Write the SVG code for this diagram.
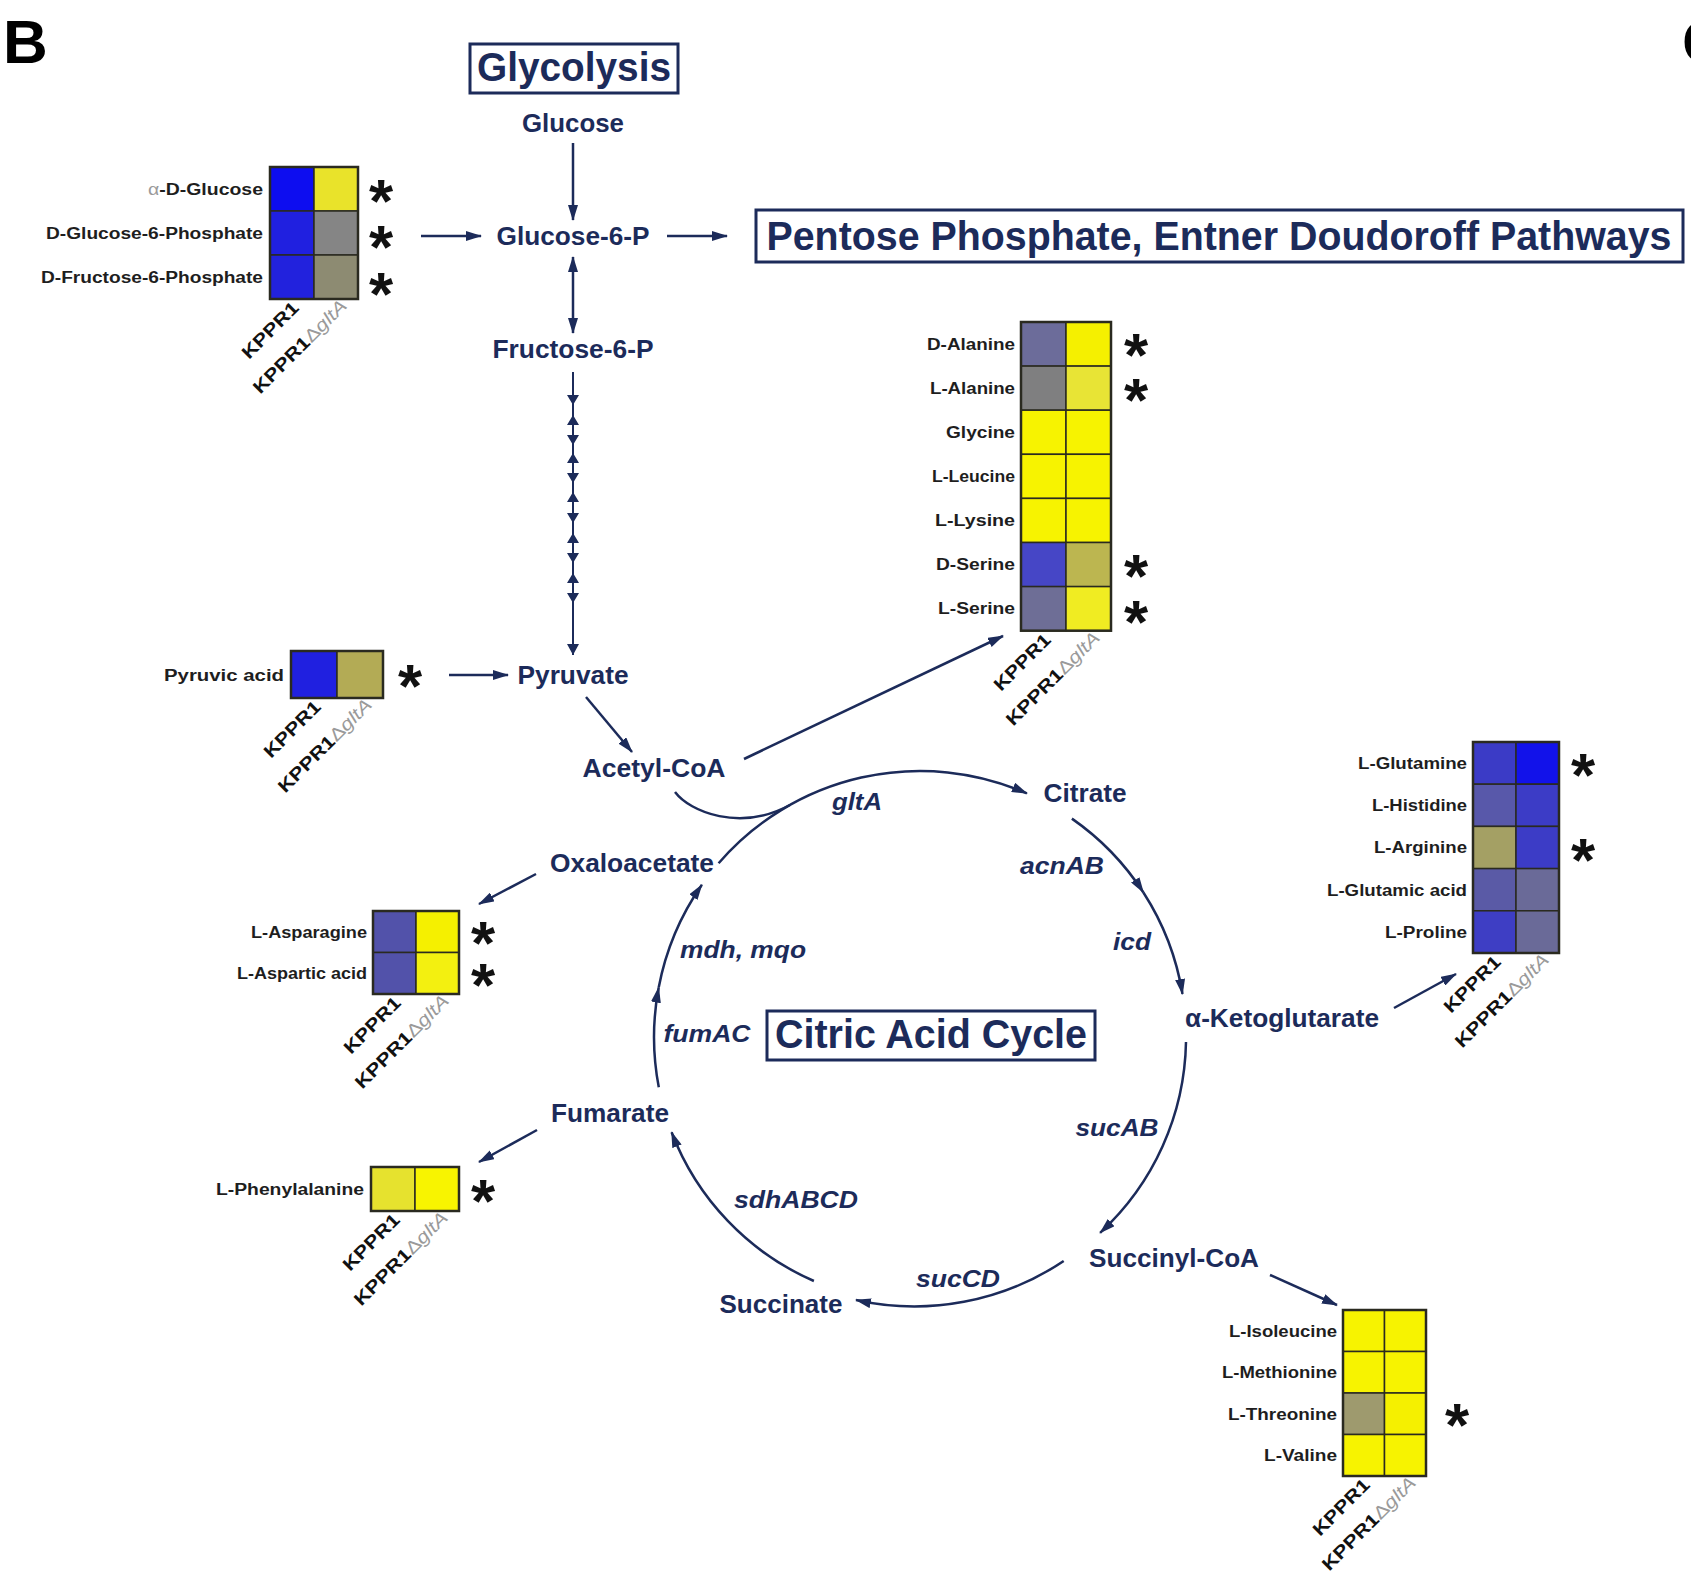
<svg xmlns="http://www.w3.org/2000/svg" width="1691" height="1589" viewBox="0 0 1691 1589">
<style>
.n{font-family:"Liberation Sans",Arial,sans-serif;font-weight:bold;font-size:25px;fill:#1c2b5a;text-anchor:middle}
.g{font-family:"Liberation Sans",Arial,sans-serif;font-weight:bold;font-style:italic;font-size:24px;fill:#1c2b5a;text-anchor:middle}
.t{font-family:"Liberation Sans",Arial,sans-serif;font-weight:bold;font-size:40px;fill:#1c2b5a;text-anchor:middle}
.h{font-family:"Liberation Sans",Arial,sans-serif;font-weight:bold;font-size:16px;fill:#1e1e1e;text-anchor:end}
.c{font-family:"Liberation Sans",Arial,sans-serif;font-weight:bold;font-size:18px;fill:#111;text-anchor:end}
.d{fill:#9a9a9a;font-weight:normal}
.s{font-family:"Liberation Sans",Arial,sans-serif;font-weight:bold;font-size:62px;fill:#111;text-anchor:middle}
.L{font-family:"Liberation Sans",Arial,sans-serif;font-weight:bold;font-size:62px;fill:#000}
.ln{stroke:#1c2b5a;stroke-width:2.5;fill:none}
.a{marker-end:url(#ah)}
.box{fill:none;stroke:#1c2b5a;stroke-width:3}
.cell{stroke:#2a2a20;stroke-width:1.5}
.fr{fill:none;stroke:#2a2a20;stroke-width:2.5}
.tri{fill:#1c2b5a}
</style>
<defs>
<marker id="ah" viewBox="0 0 16 10" refX="15" refY="5" markerWidth="16" markerHeight="10" markerUnits="userSpaceOnUse" orient="auto-start-reverse">
<path d="M0,0 L16,5 L0,10 z" fill="#1c2b5a"/>
</marker>
</defs>
<rect width="1691" height="1589" fill="#ffffff"/>
<text class="L" x="3" y="63">B</text>
<text class="L" x="1682" y="63">C</text>

<g id="connectors">
<line class="ln a" x1="573" y1="143" x2="573" y2="220"/>
<line class="ln a" x1="421" y1="236" x2="481" y2="236"/>
<line class="ln a" x1="667" y1="236" x2="727" y2="236"/>
<line class="ln a" x1="573" y1="257" x2="573" y2="333" marker-start="url(#ah)"/>
<line stroke="#1c2b5a" stroke-width="2" x1="573" y1="372" x2="573" y2="655"/>
<path class="tri" d="M567,395 L579,395 L573,405 z M567,425 L579,425 L573,415 z M567,435 L579,435 L573,445 z M567,463 L579,463 L573,453 z M567,473 L579,473 L573,483 z M567,502 L579,502 L573,492 z M567,513 L579,513 L573,523 z M567,543 L579,543 L573,533 z M567,553 L579,553 L573,563 z M567,583 L579,583 L573,573 z M567,593 L579,593 L573,603 z M567,644 L579,644 L573,655 z"/>
<line class="ln a" x1="449" y1="675" x2="508" y2="675"/>
<line class="ln a" x1="586" y1="697" x2="632" y2="752"/>
<line class="ln a" x1="744" y1="759" x2="1003" y2="636"/>
<path class="ln a" d="M718.6,863.3 A266,266 0 0 1 1026.9,793.4"/>
<path class="ln" d="M675,792 C690,812 740,832 790,805"/>
<path class="ln a" d="M1071.9,818.6 A266,266 0 0 1 1143.4,892.5"/>
<path class="ln a" d="M1143.4,892.5 A266,266 0 0 1 1182.5,994"/>
<path class="ln a" d="M1186,1042 A266,266 0 0 1 1100.1,1232.8"/>
<path class="ln a" d="M1063.7,1261 A268,268 0 0 1 856,1300"/>
<path class="ln a" d="M813.9,1281 A266,266 0 0 1 671.6,1132.3"/>
<path class="ln a" d="M658.8,1087.3 A266,266 0 0 1 658.7,987.6"/>
<path class="ln a" d="M658.7,987.6 A266,266 0 0 1 701.9,884.8"/>
<line class="ln a" x1="536" y1="874" x2="479" y2="904"/>
<line class="ln a" x1="537" y1="1130" x2="479" y2="1162"/>
<line class="ln a" x1="1394" y1="1008" x2="1456" y2="974"/>
<line class="ln a" x1="1270" y1="1275" x2="1337" y2="1305"/>
</g>

<g id="glycolysis-title"><rect class="box" x="470" y="44" width="208" height="49"/><text class="t" x="574" y="81" textLength="194" lengthAdjust="spacingAndGlyphs">Glycolysis</text></g>
<g id="pentose"><rect class="box" x="756" y="210" width="927" height="52"/><text class="t" x="1219" y="250" font-size="38" textLength="905" lengthAdjust="spacingAndGlyphs">Pentose Phosphate, Entner Doudoroff Pathways</text></g>
<g id="citric-title"><rect class="box" x="767" y="1011" width="328" height="49"/><text class="t" x="931" y="1048" textLength="312" lengthAdjust="spacingAndGlyphs">Citric Acid Cycle</text></g>

<g id="glucose"><text class="n" x="573" y="132" textLength="102" lengthAdjust="spacingAndGlyphs">Glucose</text></g>
<g id="glucose-6-p"><text class="n" x="573" y="245" textLength="153" lengthAdjust="spacingAndGlyphs">Glucose-6-P</text></g>
<g id="fructose-6-p"><text class="n" x="573" y="358" textLength="161" lengthAdjust="spacingAndGlyphs">Fructose-6-P</text></g>
<g id="pyruvate"><text class="n" x="573" y="684" textLength="111" lengthAdjust="spacingAndGlyphs">Pyruvate</text></g>
<g id="acetyl-coa"><text class="n" x="654" y="777" textLength="143" lengthAdjust="spacingAndGlyphs">Acetyl-CoA</text></g>
<g id="citrate"><text class="n" x="1085" y="802" textLength="83" lengthAdjust="spacingAndGlyphs">Citrate</text></g>
<g id="oxaloacetate"><text class="n" x="632" y="872" textLength="164" lengthAdjust="spacingAndGlyphs">Oxaloacetate</text></g>
<g id="a-ketoglutarate"><text class="n" x="1282" y="1027" textLength="194" lengthAdjust="spacingAndGlyphs">α-Ketoglutarate</text></g>
<g id="succinyl-coa"><text class="n" x="1174" y="1267" textLength="170" lengthAdjust="spacingAndGlyphs">Succinyl-CoA</text></g>
<g id="succinate"><text class="n" x="781" y="1313" textLength="123" lengthAdjust="spacingAndGlyphs">Succinate</text></g>
<g id="fumarate"><text class="n" x="610" y="1122" textLength="118" lengthAdjust="spacingAndGlyphs">Fumarate</text></g>

<g id="genes">
<text class="g" x="857" y="810" textLength="50" lengthAdjust="spacingAndGlyphs">gltA</text>
<text class="g" x="1062" y="874" textLength="84" lengthAdjust="spacingAndGlyphs">acnAB</text>
<text class="g" x="1132" y="950" textLength="38" lengthAdjust="spacingAndGlyphs">icd</text>
<text class="g" x="1117" y="1136" textLength="83" lengthAdjust="spacingAndGlyphs">sucAB</text>
<text class="g" x="796" y="1208" textLength="124" lengthAdjust="spacingAndGlyphs">sdhABCD</text>
<text class="g" x="958" y="1287" textLength="84" lengthAdjust="spacingAndGlyphs">sucCD</text>
<text class="g" x="707" y="1042" textLength="87" lengthAdjust="spacingAndGlyphs">fumAC</text>
<text class="g" x="743" y="958" textLength="126" lengthAdjust="spacingAndGlyphs">mdh, mqo</text>
</g>

<g id="heatmap-sugars">
<rect class="cell" x="270" y="167" width="44" height="44" fill="#0d0df0"/><rect class="cell" x="314" y="167" width="44" height="44" fill="#e9e32a"/>
<rect class="cell" x="270" y="211" width="44" height="44" fill="#2020e0"/><rect class="cell" x="314" y="211" width="44" height="44" fill="#858585"/>
<rect class="cell" x="270" y="255" width="44" height="44" fill="#2222dd"/><rect class="cell" x="314" y="255" width="44" height="44" fill="#8d8b72"/>
<rect class="fr" x="270" y="167" width="88" height="132"/>
<text class="h" x="263" y="195" textLength="115" lengthAdjust="spacingAndGlyphs"><tspan class="d">α</tspan>-D-Glucose</text>
<text class="h" x="263" y="239" textLength="217" lengthAdjust="spacingAndGlyphs">D-Glucose-6-Phosphate</text>
<text class="h" x="263" y="283" textLength="222" lengthAdjust="spacingAndGlyphs">D-Fructose-6-Phosphate</text>
<text class="s"><tspan x="381" y="222">*</tspan><tspan x="381" y="268">*</tspan><tspan x="381" y="315">*</tspan></text>
<text class="c" transform="translate(300,309) rotate(-45)" textLength="72" lengthAdjust="spacingAndGlyphs">KPPR1</text>
<text class="c" transform="translate(348,307) rotate(-45)" textLength="124" lengthAdjust="spacingAndGlyphs">KPPR1<tspan class="d">Δ<tspan font-style="italic">gltA</tspan></tspan></text>
</g>

<g id="heatmap-pyruvic">
<rect class="cell" x="291" y="651" width="46" height="47" fill="#2020e0"/><rect class="cell" x="337" y="651" width="46" height="47" fill="#b3ab55"/>
<rect class="fr" x="291" y="651" width="92" height="47"/>
<text class="h" x="284" y="681" textLength="120" lengthAdjust="spacingAndGlyphs">Pyruvic acid</text>
<text class="s" x="410" y="707">*</text>
<text class="c" transform="translate(322,708) rotate(-45)" textLength="72" lengthAdjust="spacingAndGlyphs">KPPR1</text>
<text class="c" transform="translate(373,706) rotate(-45)" textLength="124" lengthAdjust="spacingAndGlyphs">KPPR1<tspan class="d">Δ<tspan font-style="italic">gltA</tspan></tspan></text>
</g>

<g id="heatmap-pyruvate-aa">
<rect class="cell" x="1021" y="322" width="45" height="44.1" fill="#6c6c9a"/><rect class="cell" x="1066" y="322" width="45" height="44.1" fill="#f5f000"/>
<rect class="cell" x="1021" y="366.1" width="45" height="44.1" fill="#7f7f80"/><rect class="cell" x="1066" y="366.1" width="45" height="44.1" fill="#e8e435"/>
<rect class="cell" x="1021" y="410.2" width="45" height="44.1" fill="#f7f300"/><rect class="cell" x="1066" y="410.2" width="45" height="44.1" fill="#f7f300"/>
<rect class="cell" x="1021" y="454.3" width="45" height="44.1" fill="#f7f300"/><rect class="cell" x="1066" y="454.3" width="45" height="44.1" fill="#f7f300"/>
<rect class="cell" x="1021" y="498.4" width="45" height="44.1" fill="#f7f300"/><rect class="cell" x="1066" y="498.4" width="45" height="44.1" fill="#f7f300"/>
<rect class="cell" x="1021" y="542.5" width="45" height="44.1" fill="#4646c6"/><rect class="cell" x="1066" y="542.5" width="45" height="44.1" fill="#bcb650"/>
<rect class="cell" x="1021" y="586.6" width="45" height="44.1" fill="#6e6e96"/><rect class="cell" x="1066" y="586.6" width="45" height="44.1" fill="#f0ec22"/>
<rect class="fr" x="1021" y="322" width="90" height="308.7"/>
<text class="h" x="1015" y="350" textLength="88" lengthAdjust="spacingAndGlyphs">D-Alanine</text>
<text class="h" x="1015" y="394" textLength="85" lengthAdjust="spacingAndGlyphs">L-Alanine</text>
<text class="h" x="1015" y="438" textLength="69" lengthAdjust="spacingAndGlyphs">Glycine</text>
<text class="h" x="1015" y="482" textLength="83" lengthAdjust="spacingAndGlyphs">L-Leucine</text>
<text class="h" x="1015" y="526" textLength="80" lengthAdjust="spacingAndGlyphs">L-Lysine</text>
<text class="h" x="1015" y="570" textLength="79" lengthAdjust="spacingAndGlyphs">D-Serine</text>
<text class="h" x="1015" y="614" textLength="77" lengthAdjust="spacingAndGlyphs">L-Serine</text>
<text class="s"><tspan x="1136" y="376">*</tspan><tspan x="1136" y="421">*</tspan><tspan x="1136" y="597">*</tspan><tspan x="1136" y="643">*</tspan></text>
<text class="c" transform="translate(1052,641) rotate(-45)" textLength="72" lengthAdjust="spacingAndGlyphs">KPPR1</text>
<text class="c" transform="translate(1101,639) rotate(-45)" textLength="124" lengthAdjust="spacingAndGlyphs">KPPR1<tspan class="d">Δ<tspan font-style="italic">gltA</tspan></tspan></text>
</g>

<g id="heatmap-akg-aa">
<rect class="cell" x="1473" y="742" width="43" height="42.2" fill="#3b3bc6"/><rect class="cell" x="1516" y="742" width="43" height="42.2" fill="#1212ea"/>
<rect class="cell" x="1473" y="784.2" width="43" height="42.2" fill="#5858aa"/><rect class="cell" x="1516" y="784.2" width="43" height="42.2" fill="#3c3cc6"/>
<rect class="cell" x="1473" y="826.4" width="43" height="42.2" fill="#a4a064"/><rect class="cell" x="1516" y="826.4" width="43" height="42.2" fill="#3c3cc6"/>
<rect class="cell" x="1473" y="868.6" width="43" height="42.2" fill="#5a5aa6"/><rect class="cell" x="1516" y="868.6" width="43" height="42.2" fill="#6a6a98"/>
<rect class="cell" x="1473" y="910.8" width="43" height="42.2" fill="#3e3ec4"/><rect class="cell" x="1516" y="910.8" width="43" height="42.2" fill="#6a6a98"/>
<rect class="fr" x="1473" y="742" width="86" height="211"/>
<text class="h" x="1467" y="769" textLength="109" lengthAdjust="spacingAndGlyphs">L-Glutamine</text>
<text class="h" x="1467" y="811" textLength="95" lengthAdjust="spacingAndGlyphs">L-Histidine</text>
<text class="h" x="1467" y="853" textLength="93" lengthAdjust="spacingAndGlyphs">L-Arginine</text>
<text class="h" x="1467" y="896" textLength="140" lengthAdjust="spacingAndGlyphs">L-Glutamic acid</text>
<text class="h" x="1467" y="938" textLength="82" lengthAdjust="spacingAndGlyphs">L-Proline</text>
<text class="s"><tspan x="1583" y="796">*</tspan><tspan x="1583" y="881">*</tspan></text>
<text class="c" transform="translate(1502,963) rotate(-45)" textLength="72" lengthAdjust="spacingAndGlyphs">KPPR1</text>
<text class="c" transform="translate(1550,961) rotate(-45)" textLength="124" lengthAdjust="spacingAndGlyphs">KPPR1<tspan class="d">Δ<tspan font-style="italic">gltA</tspan></tspan></text>
</g>

<g id="heatmap-oaa-aa">
<rect class="cell" x="373" y="911" width="43" height="41.5" fill="#5252aa"/><rect class="cell" x="416" y="911" width="43" height="41.5" fill="#f5f000"/>
<rect class="cell" x="373" y="952.5" width="43" height="41.5" fill="#5252aa"/><rect class="cell" x="416" y="952.5" width="43" height="41.5" fill="#f3f010"/>
<rect class="fr" x="373" y="911" width="86" height="83"/>
<text class="h" x="367" y="938" textLength="116" lengthAdjust="spacingAndGlyphs">L-Asparagine</text>
<text class="h" x="367" y="979" textLength="130" lengthAdjust="spacingAndGlyphs">L-Aspartic acid</text>
<text class="s"><tspan x="483" y="964">*</tspan><tspan x="483" y="1006">*</tspan></text>
<text class="c" transform="translate(402,1004) rotate(-45)" textLength="72" lengthAdjust="spacingAndGlyphs">KPPR1</text>
<text class="c" transform="translate(450,1002) rotate(-45)" textLength="124" lengthAdjust="spacingAndGlyphs">KPPR1<tspan class="d">Δ<tspan font-style="italic">gltA</tspan></tspan></text>
</g>

<g id="heatmap-fumarate-aa">
<rect class="cell" x="371" y="1167" width="44" height="44" fill="#e6e22e"/><rect class="cell" x="415" y="1167" width="44" height="44" fill="#f8f400"/>
<rect class="fr" x="371" y="1167" width="88" height="44"/>
<text class="h" x="364" y="1195" textLength="148" lengthAdjust="spacingAndGlyphs">L-Phenylalanine</text>
<text class="s" x="483" y="1222">*</text>
<text class="c" transform="translate(401,1221) rotate(-45)" textLength="72" lengthAdjust="spacingAndGlyphs">KPPR1</text>
<text class="c" transform="translate(449,1219) rotate(-45)" textLength="124" lengthAdjust="spacingAndGlyphs">KPPR1<tspan class="d">Δ<tspan font-style="italic">gltA</tspan></tspan></text>
</g>

<g id="heatmap-succinyl-aa">
<rect class="cell" x="1343" y="1310" width="41.5" height="41.5" fill="#f7f300"/><rect class="cell" x="1384.5" y="1310" width="41.5" height="41.5" fill="#f7f300"/>
<rect class="cell" x="1343" y="1351.5" width="41.5" height="41.5" fill="#f7f300"/><rect class="cell" x="1384.5" y="1351.5" width="41.5" height="41.5" fill="#f7f300"/>
<rect class="cell" x="1343" y="1393" width="41.5" height="41.5" fill="#9e9a6e"/><rect class="cell" x="1384.5" y="1393" width="41.5" height="41.5" fill="#f5f000"/>
<rect class="cell" x="1343" y="1434.5" width="41.5" height="41.5" fill="#f7f300"/><rect class="cell" x="1384.5" y="1434.5" width="41.5" height="41.5" fill="#f7f300"/>
<rect class="fr" x="1343" y="1310" width="83" height="166"/>
<text class="h" x="1337" y="1337" textLength="108" lengthAdjust="spacingAndGlyphs">L-Isoleucine</text>
<text class="h" x="1337" y="1378" textLength="115" lengthAdjust="spacingAndGlyphs">L-Methionine</text>
<text class="h" x="1337" y="1420" textLength="109" lengthAdjust="spacingAndGlyphs">L-Threonine</text>
<text class="h" x="1337" y="1461" textLength="73" lengthAdjust="spacingAndGlyphs">L-Valine</text>
<text class="s" x="1457" y="1446">*</text>
<text class="c" transform="translate(1371,1486) rotate(-45)" textLength="72" lengthAdjust="spacingAndGlyphs">KPPR1</text>
<text class="c" transform="translate(1417,1484) rotate(-45)" textLength="124" lengthAdjust="spacingAndGlyphs">KPPR1<tspan class="d">Δ<tspan font-style="italic">gltA</tspan></tspan></text>
</g>
</svg>
